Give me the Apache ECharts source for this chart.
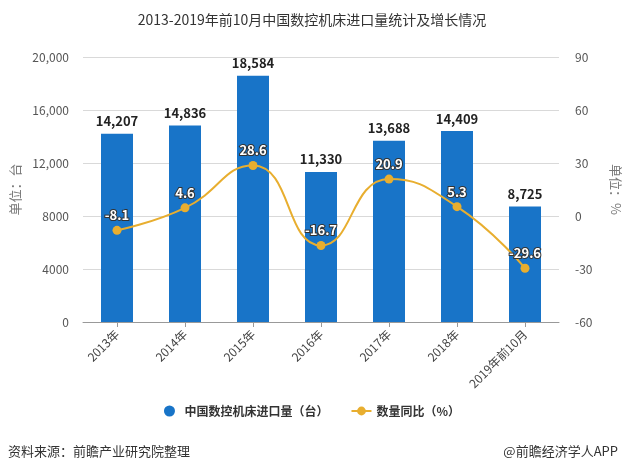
<!DOCTYPE html>
<html>
<head>
<meta charset="utf-8">
<script src="https://cdn.jsdelivr.net/npm/echarts@6/dist/echarts.min.js"></script>
<style>
  html, body { margin: 0; padding: 0; background: #fff; }
  #chart { width: 624px; height: 470px; }
</style>
</head>
<body>
<div id="chart"></div>
<script>
    const years = ['2013年', '2014年', '2015年', '2016年', '2017年', '2018年', '2019年前10月'];
    const importCount = [14207, 14836, 18584, 11330, 13688, 14409, 8725];
    const yoyGrowth = [-8.1, 4.6, 28.6, -16.7, 20.9, 5.3, -29.6];

    const fontFamily = '"Noto Sans CJK SC", "Noto Sans", sans-serif';

    const chart = echarts.init(document.getElementById('chart'));

    chart.setOption({
        textStyle: {fontFamily: fontFamily},
        title: {
            text: '2013-2019年前10月中国数控机床进口量统计及增长情况',
            left: 'center',
            top: 8,
            textStyle: {fontSize: 14, fontWeight: 'normal', color: '#333', fontFamily: fontFamily}
        },
        legend: {
            bottom: 48,
            left: 'center',
            itemGap: 22,
            itemWidth: 20,
            itemHeight: 11,
            textStyle: {fontSize: 12, color: '#333', fontWeight: 'bold'},
            data: [
                {name: '中国数控机床进口量（台）', icon: 'circle'},
                {name: '数量同比（%）'}
            ]
        },
        grid: {left: 83, right: 65, top: 57, bottom: 148, outerBoundsMode: 'none'},
        xAxis: {
            type: 'category',
            data: years,
            axisTick: {show: true, alignWithLabel: true, lineStyle: {color: '#999'}},
            axisLine: {lineStyle: {color: '#999'}},
            axisLabel: {rotate: 45, color: '#444', fontSize: 12, margin: 10}
        },
        yAxis: [
            {
                type: 'value',
                name: '单位：台',
                nameLocation: 'middle',
                nameGap: 60,
                nameRotate: 90,
                nameTextStyle: {color: '#777', fontSize: 13},
                min: 0,
                max: 20000,
                interval: 4000,
                axisLine: {show: false},
                axisTick: {show: false},
                splitLine: {lineStyle: {color: '#d9d9d9'}},
                axisLabel: {
                    color: '#555',
                    fontSize: 12,
                    margin: 14,
                    formatter: function (v) {
                        return v >= 10000 ? v.toLocaleString('en-US') : String(v);
                    }
                }
            },
            {
                type: 'value',
                name: '单位：%',
                nameLocation: 'middle',
                nameGap: 50,
                nameRotate: -90,
                nameTextStyle: {color: '#777', fontSize: 13},
                min: -60,
                max: 90,
                interval: 30,
                axisLine: {show: false},
                axisTick: {show: false},
                splitLine: {show: false},
                axisLabel: {color: '#555', fontSize: 12, margin: 16}
            }
        ],
        series: [
            {
                name: '中国数控机床进口量（台）',
                type: 'bar',
                barWidth: 32,
                data: importCount,
                itemStyle: {color: '#1874c8'},
                label: {
                    show: true,
                    position: 'top',
                    distance: 6,
                    color: '#222',
                    fontSize: 13,
                    fontWeight: 'bold',
                    formatter: function (p) {
                        return p.value.toLocaleString('en-US');
                    }
                }
            },
            {
                name: '数量同比（%）',
                type: 'line',
                yAxisIndex: 1,
                smooth: true,
                data: yoyGrowth,
                symbol: 'circle',
                symbolSize: 9,
                lineStyle: {color: '#e8ae2f', width: 2},
                itemStyle: {color: '#e8ae2f'},
                label: {
                    show: true,
                    position: 'top',
                    distance: 4,
                    color: '#fff',
                    fontSize: 13,
                    fontWeight: 'bold',
                    textBorderColor: '#333',
                    textBorderWidth: 2
                }
            }
        ],
        graphic: [
            {
                type: 'text',
                left: 8,
                bottom: 12,
                style: {text: '资料来源：前瞻产业研究院整理', fill: '#333', fontSize: 13, fontFamily: fontFamily}
            },
            {
                type: 'text',
                right: 6,
                bottom: 12,
                style: {text: '@前瞻经济学人APP', fill: '#333', fontSize: 13, fontFamily: fontFamily}
            }
        ]
    });
</script>
</body>
</html>
